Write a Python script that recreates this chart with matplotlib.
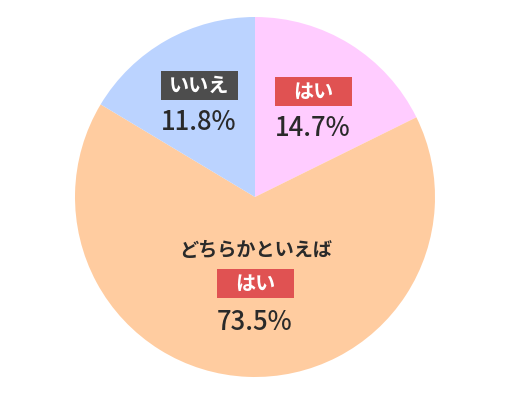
import matplotlib
matplotlib.use("Agg")
import matplotlib.pyplot as plt
from matplotlib.patches import Rectangle

plt.rcParams['font.family'] = ['Noto Sans CJK JP', 'DejaVu Sans']

# 回答の内訳（上から時計回り）
labels = ['はい', 'どちらかといえば\nはい', 'いいえ']
values = [14.7, 73.5, 11.8]          # 表示されている割合
# 元の図の扇形の角度はラベルの値と一致しないので、図から読んだ比率で描く
wedge_share = [17.7, 65.9, 16.4]
colors = ['#FFCCFF', '#FFCCA0', '#BBD3FF']

fig = plt.figure(figsize=(5.12, 4.0), dpi=100)
ax = fig.add_axes([0, 0, 1, 1])

cx, cy, r = 255, 203, 180
ax.pie(wedge_share, colors=colors, startangle=90, counterclock=False,
       center=(cx, cy), radius=r, frame=True,
       wedgeprops={'linewidth': 0})
ax.set_xlim(0, 512)
ax.set_ylim(0, 400)
ax.set_aspect('equal')
ax.axis('off')


def tag(x, y, text, fc):
    w, h = 77, 29
    ax.add_patch(Rectangle((x - w / 2, y - h / 2), w, h, facecolor=fc,
                           edgecolor='none', zorder=3))
    ax.text(x, y, text, ha='center', va='center', color='white',
            fontsize=14.5, fontweight='bold', zorder=4)


def pct(x, y, v):
    ax.text(x, y, f'{v}%', ha='center', va='center', color='#2a2a2a',
            fontsize=18.5, fontweight='medium', zorder=4)


# はい
tag(313, 400 - 91, labels[0], '#E05252')
pct(313, 400 - 128, values[0])

# どちらかといえば はい
ax.text(256, 400 - 250, labels[1].split('\n')[0], ha='center', va='center',
        color='#2a2a2a', fontsize=13.8, fontweight='bold', zorder=4)
tag(255, 400 - 283, labels[1].split('\n')[1], '#E05252')
pct(255, 400 - 322, values[1])

# いいえ
tag(199, 400 - 85, labels[2], '#4D4D4D')
pct(199, 400 - 122, values[2])

fig.savefig('out.png', dpi=100, facecolor='white')
